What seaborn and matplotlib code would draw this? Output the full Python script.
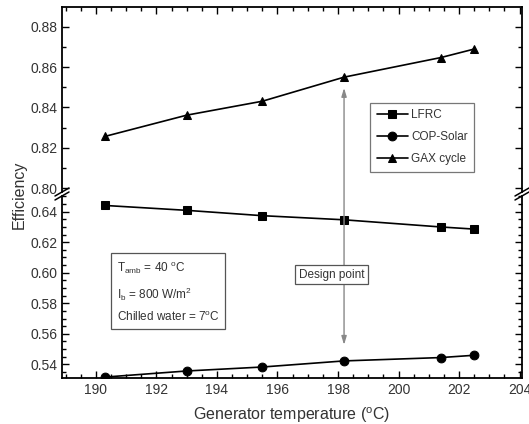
import numpy as np
import pandas as pd
import matplotlib
matplotlib.use("Agg")
import matplotlib.pyplot as plt
from matplotlib.lines import Line2D
from matplotlib.ticker import MultipleLocator, FormatStrFormatter
import seaborn as sns

# ---- data ----
temperature = [190.3, 193.0, 195.5, 198.2, 201.4, 202.5]
lfrc = [0.6441, 0.6409, 0.6374, 0.6347, 0.6300, 0.6286]
cop_solar = [0.5316, 0.5356, 0.5382, 0.5422, 0.5444, 0.5459]
gax_cycle = [0.8257, 0.8362, 0.8431, 0.8550, 0.8647, 0.8689]
series_names = ["LFRC", "COP-Solar", "GAX cycle"]
design_temp = 198.2

df = pd.DataFrame({
    "T": temperature * 3,
    "eff": lfrc + cop_solar + gax_cycle,
    "series": [s for s in series_names for _ in temperature],
})

sns.set_style("ticks")
plt.rcParams["font.family"] = ["Liberation Sans", "DejaVu Sans"]
plt.rcParams["mathtext.fontset"] = "custom"
plt.rcParams["mathtext.rm"] = "Liberation Sans"
plt.rcParams["mathtext.it"] = "Liberation Sans"

W, H = 529, 424
fig = plt.figure(figsize=(W / 100, H / 100), dpi=100)
fig.patch.set_facecolor("white")

L, R = 62, 522
def frac_rect(top_px, bot_px):
    return [L / W, 1 - bot_px / H, (R - L) / W, (bot_px - top_px) / H]

ax_low = fig.add_axes(frac_rect(196, 378))
ax_up = fig.add_axes(frac_rect(7, 192), sharex=ax_low)
for ax in (ax_low, ax_up):
    ax.set_facecolor("none")

markers = {"LFRC": "s", "COP-Solar": "o", "GAX cycle": "^"}
palette = {s: "black" for s in series_names}
for ax in (ax_low, ax_up):
    sns.lineplot(data=df, x="T", y="eff", hue="series", style="series",
                 markers=markers, dashes=False, palette=palette,
                 markersize=6.3, linewidth=1.2, markeredgecolor="black",
                 ax=ax, legend=(ax is ax_up))

ax_low.set_xlim(188.88, 204.08)
ax_low.set_ylim(0.5310, 0.6503)
ax_up.set_ylim(0.7982, 0.8897)

tick_color = "#333333"
for ax in (ax_low, ax_up):
    ax.tick_params(which="both", direction="in", top=True, right=True,
                   colors="black", labelcolor=tick_color, labelsize=10, width=1)
    ax.tick_params(which="major", length=5)
    ax.tick_params(which="minor", length=3)
    for sp in ax.spines.values():
        sp.set_linewidth(1.3)
        sp.set_color("black")
    ax.set_ylabel("")
    ax.set_xlabel("")

ax_low.xaxis.set_major_locator(MultipleLocator(2))
ax_low.xaxis.set_minor_locator(MultipleLocator(0.5))
ax_low.xaxis.set_major_formatter(FormatStrFormatter("%d"))
ax_low.yaxis.set_major_locator(MultipleLocator(0.02))
ax_low.yaxis.set_minor_locator(MultipleLocator(0.005))
ax_low.yaxis.set_major_formatter(FormatStrFormatter("%.2f"))
ax_up.yaxis.set_major_locator(MultipleLocator(0.02))
ax_up.yaxis.set_minor_locator(MultipleLocator(0.01))
ax_up.yaxis.set_major_formatter(FormatStrFormatter("%.2f"))

ax_low.spines["top"].set_visible(False)
ax_up.spines["bottom"].set_visible(False)
ax_low.tick_params(which="both", top=False)
ax_up.tick_params(which="both", bottom=False, labelbottom=False)

ax_low.set_xlabel("Generator temperature ($^{\\mathrm{o}}$C)", fontsize=11.5,
                  color=tick_color, labelpad=6)
fig.text(19 / W, 1 - 195 / H, "Efficiency", rotation=90, fontsize=11.5,
         color=tick_color, ha="center", va="center")

# break marks
for xp in (L, R):
    for yp in (192, 196):
        fig.add_artist(Line2D([(xp - 7) / W, (xp + 7) / W],
                              [1 - (yp + 4) / H, 1 - (yp - 4) / H],
                              transform=fig.transFigure, color="black", lw=1.1))

# legend
leg = ax_up.legend(loc="upper right", bbox_to_anchor=(0.909, 0.515),
                   frameon=True, fancybox=False, fontsize=8.5,
                   handlelength=2.6, borderpad=0.55, labelspacing=0.85,
                   handletextpad=0.3)
leg.get_frame().set_edgecolor("#555555")
leg.get_frame().set_linewidth(0.9)
for t in leg.get_texts():
    t.set_color(tick_color)

# conditions box
ax_low.text(0.1065 + 0.012, 0.679 - 0.03,
            "T$_{\\mathrm{amb}}$ = 40 $^{\\mathrm{o}}$C\n"
            "I$_{\\mathrm{b}}$ = 800 W/m$^{2}$\n"
            "Chilled water = 7$^{\\mathrm{o}}$C",
            transform=ax_low.transAxes, fontsize=8.5, color=tick_color,
            va="top", ha="left", linespacing=1.72,
            bbox=dict(boxstyle="square,pad=0.45", fc="white", ec="#555555", lw=0.9))

# design point arrows
arrow_kw = dict(arrowstyle="-|>,head_length=0.5,head_width=0.15",
                color="#888888", lw=1.0, shrinkA=0, shrinkB=0)
ax_up.annotate("", xy=(design_temp, 0.5527), xycoords=ax_low.transData,
               xytext=(design_temp, 0.5988), textcoords=ax_low.transData,
               arrowprops=arrow_kw, annotation_clip=False)
ax_up.annotate("", xy=(design_temp, 0.8497), xycoords=ax_up.transData,
               xytext=(design_temp, 0.5988), textcoords=ax_low.transData,
               arrowprops=arrow_kw, annotation_clip=False)
ax_up.annotate("Design point", xy=(design_temp, 0.5988), xycoords=ax_low.transData,
               xytext=(-9, 0), textcoords="offset points",
               fontsize=8.5, color=tick_color, ha="center", va="center",
               annotation_clip=False,
               bbox=dict(boxstyle="square,pad=0.3", fc="white", ec="#555555", lw=0.9))

fig.savefig("out.png", dpi=100)
